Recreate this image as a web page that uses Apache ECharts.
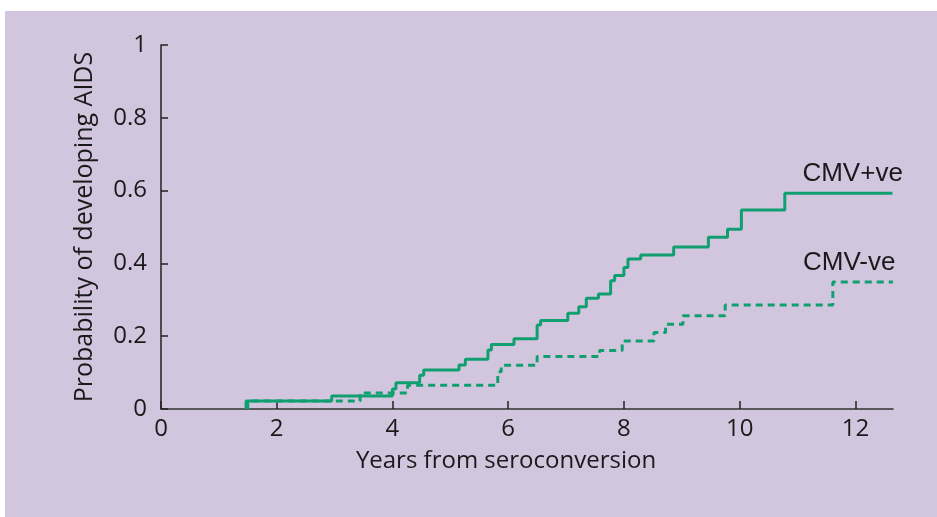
<!DOCTYPE html>
<html>
<head>
<meta charset="utf-8">
<script src="https://cdn.jsdelivr.net/npm/echarts@6/dist/echarts.min.js"></script>
<style>
  html, body { margin: 0; padding: 0; background: #fff; }
  #chart { width: 937px; height: 517px; }
</style>
</head>
<body>
<div id="chart"></div>
<script>
// Kaplan-Meier style curves (years, probability)
var posYears = [1.47, 1.47, 2.95, 4.0, 4.06, 4.47, 4.54, 5.15, 5.26, 5.65, 5.71, 6.1, 6.5, 6.56, 7.03, 7.22, 7.35, 7.56, 7.77, 7.84, 8.0, 8.07, 8.29, 8.86, 9.46, 9.79, 10.03, 10.78, 12.64]
var posProb  = [0, 0.022, 0.036, 0.055, 0.072, 0.093, 0.107, 0.121, 0.137, 0.162, 0.177, 0.193, 0.231, 0.243, 0.263, 0.281, 0.304, 0.316, 0.352, 0.367, 0.389, 0.412, 0.423, 0.445, 0.472, 0.494, 0.547, 0.593, 0.593]

var negYears = [1.5, 1.5, 3.44, 4.26, 5.82, 5.88, 6.5, 7.58, 7.97, 8.52, 8.72, 9.02, 9.75, 11.61, 12.65]
var negProb  = [0, 0.022, 0.044, 0.065, 0.102, 0.12, 0.144, 0.161, 0.187, 0.21, 0.233, 0.256, 0.286, 0.349, 0.349]

var seriesNames = ['CMV+ve', 'CMV-ve']

function pairs(xs, ys) {
  return xs.map(function (x, i) { return [x, ys[i]] })
}

var green = '#10a070'
var ink = '#1a1a1a'
var axisFont = '"Open Sans", "Noto Sans", sans-serif'

var chart = echarts.init(document.getElementById('chart'))

var endLabel = {
  show: true,
  formatter: '{a}',
  align: 'left',
  verticalAlign: 'middle',
  offset: [-98, -19],
  color: ink,
  fontFamily: '"Liberation Sans", Arial, sans-serif',
  fontSize: 26
}

chart.setOption({
  animation: false,
  backgroundColor: '#fff',
  graphic: [{
    type: 'rect',
    left: 5, top: 11,
    shape: { width: 932, height: 506 },
    style: { fill: '#d2c5de' },
    z: -10
  }],
  grid: { left: 161, right: 44, top: 45, bottom: 108, containLabel: false },
  xAxis: {
    type: 'value',
    min: 0,
    max: 12.65,
    interval: 2,
    name: 'Years from seroconversion',
    nameLocation: 'middle',
    nameGap: 40,
    nameTextStyle: { color: ink, fontFamily: axisFont, fontSize: 24, padding: [0, 42, 0, 0] },
    axisLine: { lineStyle: { color: '#333', width: 1.5 } },
    axisTick: { inside: true, length: 8, lineStyle: { color: '#222', width: 1.5 } },
    axisLabel: { color: ink, fontFamily: axisFont, fontSize: 24, margin: 8, showMaxLabel: false },
    splitLine: { show: false }
  },
  yAxis: {
    type: 'value',
    min: 0,
    max: 1,
    interval: 0.2,
    name: 'Probability of developing AIDS',
    nameLocation: 'middle',
    nameGap: 64,
    nameTextStyle: { color: ink, fontFamily: axisFont, fontSize: 25 },
    axisLine: { show: true, lineStyle: { color: '#222', width: 1.5 } },
    axisTick: { show: true, inside: true, length: 7, lineStyle: { color: '#222', width: 1.5 } },
    axisLabel: { color: ink, fontFamily: axisFont, fontSize: 24, margin: 14 },
    splitLine: { show: false }
  },
  series: [
    {
      name: seriesNames[0],
      type: 'line',
      step: 'end',
      symbol: 'none',
      data: pairs(posYears, posProb),
      lineStyle: { color: green, width: 3 },
      endLabel: endLabel
    },
    {
      name: seriesNames[1],
      type: 'line',
      step: 'end',
      symbol: 'none',
      data: pairs(negYears, negProb),
      lineStyle: { color: green, width: 3, type: [7, 5] },
      endLabel: endLabel
    }
  ]
})
</script>
</body>
</html>
